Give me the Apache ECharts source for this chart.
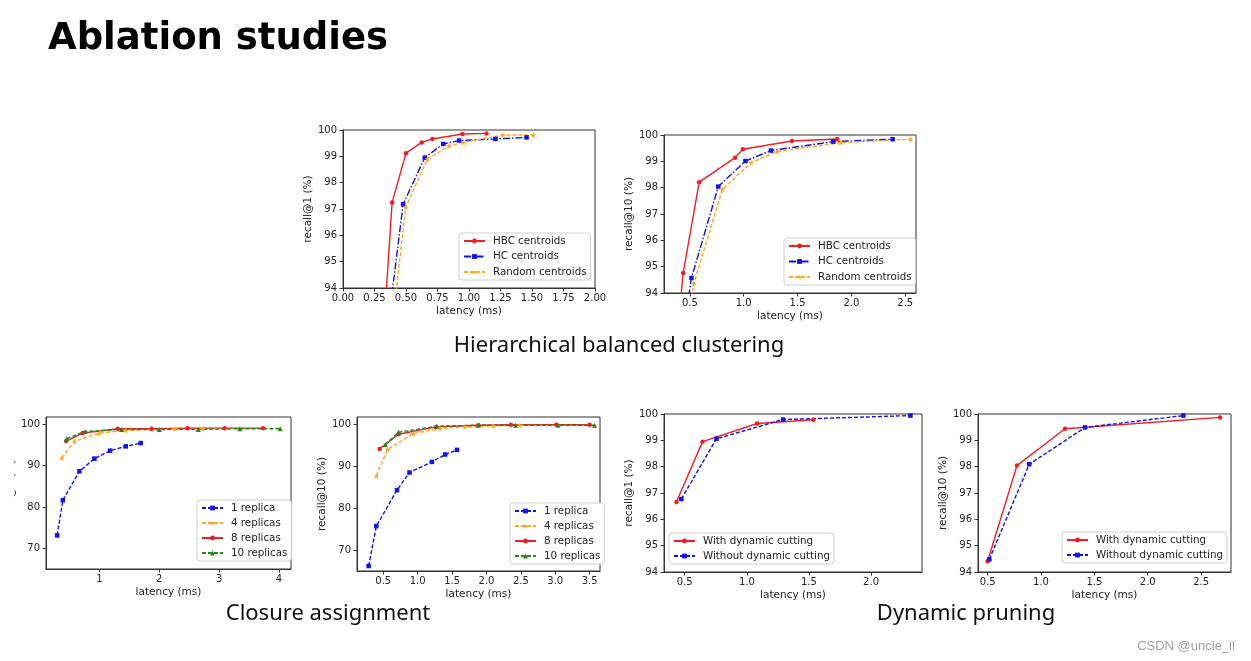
<!DOCTYPE html>
<html><head><meta charset="utf-8">
<script src="https://cdn.jsdelivr.net/npm/echarts@6/dist/echarts.min.js"></script>
<style>html,body{margin:0;padding:0;background:#fff}#c{width:1251px;height:661px}</style>
</head><body><div id="c"></div>
<script>
// ---------- data ----------
// Hierarchical balanced clustering, recall@1
const hbcR1  = [[0.29,90.0],[0.39,97.25],[0.50,99.12],[0.625,99.53],[0.71,99.66],[0.948,99.85],[1.139,99.87]];
const hcR1   = [[0.29,90.0],[0.477,97.18],[0.649,98.95],[0.795,99.47],[0.922,99.60],[1.21,99.66],[1.457,99.72]];
const randR1 = [[0.33,90.0],[0.498,97.07],[0.67,98.90],[0.842,99.40],[0.954,99.53],[1.27,99.81],[1.51,99.81]];
// Hierarchical balanced clustering, recall@10
const hbcR10  = [[0.37,91.9],[0.438,94.76],[0.587,98.21],[0.92,99.14],[0.992,99.46],[1.448,99.77],[1.868,99.85]];
const hcR10   = [[0.42,92.0],[0.515,94.57],[0.764,98.04],[1.016,99.01],[1.253,99.41],[1.832,99.75],[2.383,99.84]];
const randR10 = [[0.45,91.8],[0.537,94.35],[0.802,97.94],[1.07,98.95],[1.31,99.37],[1.9,99.71],[2.55,99.84]];
// Closure assignment, recall@1
const rep1R1  = [[0.294,73.13],[0.389,81.66],[0.666,88.66],[0.916,91.72],[1.178,93.65],[1.44,94.69],[1.69,95.49]];
const rep4R1  = [[0.373,91.87],[0.583,95.9],[1.0,97.9],[1.444,98.55],[1.87,98.9],[2.26,98.95],[2.72,98.95]];
const rep8R1  = [[0.445,95.97],[0.723,97.9],[1.306,98.96],[1.873,98.96],[2.473,99.1],[3.094,99.1],[3.733,99.1]];
const rep10R1 = [[0.456,96.55],[0.761,98.31],[1.373,98.79],[2.0,98.79],[2.65,98.8],[3.344,98.95],[4.02,98.95]];
// Closure assignment, recall@10
const rep1R10  = [[0.287,66.19],[0.399,75.74],[0.699,84.32],[0.881,88.54],[1.206,91.07],[1.399,92.84],[1.572,93.94]];
const rep4R10  = [[0.399,87.73],[0.562,94.03],[0.939,97.85],[1.326,99.05],[1.688,99.44],[2.1,99.68],[2.486,99.84]];
const rep8R10  = [[0.446,94.18],[0.722,97.68],[1.268,99.43],[1.882,99.84],[2.355,99.95],[3.017,99.95],[3.5,99.95]];
const rep10R10 = [[0.529,95.23],[0.722,98.16],[1.278,99.59],[1.882,99.84],[2.423,99.84],[3.04,99.84],[3.57,99.84]];
// Dynamic pruning
const withR1     = [[0.433,96.66],[0.643,98.95],[1.083,99.64],[1.535,99.78]];
const withoutR1  = [[0.473,96.77],[0.755,99.06],[1.293,99.79],[2.317,99.94]];
const withR10    = [[0.5,94.41],[0.775,98.04],[1.225,99.44],[2.678,99.87]];
const withoutR10 = [[0.516,94.48],[0.89,98.09],[1.4125,99.49],[2.334,99.94]];
// tick labels
const ticksX1 = [0,0.25,0.5,0.75,1,1.25,1.5,1.75,2];
const ticksX2 = [0.5,1,1.5,2,2.5];
const ticksX3 = [1,2,3,4];
const ticksX4 = [0.5,1,1.5,2,2.5,3,3.5];
const ticksX5 = [0.5,1,1.5,2];
const ticksX6 = [0.5,1,1.5,2,2.5];
const ticksYfine = [94,95,96,97,98,99,100];
const ticksYwide = [70,80,90,100];
// names
const clusterNames = ['HBC centroids','HC centroids','Random centroids'];
const replicaNames = ['1 replica','4 replicas','8 replicas','10 replicas'];
const pruneNames = ['With dynamic cutting','Without dynamic cutting'];

// ---------- styling ----------
const F = 'DejaVu Sans';
const RED = '#f21d23', BLUE = '#1010f5', ORANGE = '#ffa81a', GREEN = '#1a8a1a';
const AX = '#333';
const STAR = 'path://M0,-5L1.2,-1.6L4.8,-1.5L1.9,0.6L2.9,4L0,2L-2.9,4L-1.9,0.6L-4.8,-1.5L-1.2,-1.6Z';
const DASH = [4,2];
const DASHDOT = [7,2,1.5,2];

const grids = [
  {left:343, top:130, width:252, height:158},
  {left:664, top:135, width:252, height:158},
  {left:46,  top:417, width:245, height:152},
  {left:357, top:417, width:243, height:154},
  {left:664, top:414, width:258, height:158},
  {left:978, top:414, width:253, height:158}
].map(g => Object.assign({show:true, borderColor:AX, borderWidth:1, backgroundColor:'#fff', containLabel:false, outerBoundsMode:'none'}, g));

function xAx(gi, min, max, ticks, dec) {
  return {type:'value', gridIndex:gi, min:min, max:max,
    name:'latency (ms)', nameLocation:'middle', nameGap:18,
    nameTextStyle:{fontFamily:F, fontSize:10.5, color:'#222'},
    axisLine:{show:true, onZero:false, lineStyle:{color:AX, width:1}},
    axisTick:{show:true, length:3.5, lineStyle:{color:AX}, customValues:ticks},
    axisLabel:{customValues:ticks, formatter:v => Number(v).toFixed(dec), margin:5, fontFamily:F, fontSize:10, color:'#222'},
    splitLine:{show:false}};
}
function yAx(gi, min, max, ticks, name) {
  return {type:'value', gridIndex:gi, min:min, max:max,
    name:name, nameLocation:'middle', nameGap:27, nameRotate:90,
    nameTextStyle:{fontFamily:F, fontSize:10.5, color:'#222'},
    axisLine:{show:true, onZero:false, lineStyle:{color:AX, width:1}},
    axisTick:{show:true, length:3.5, lineStyle:{color:AX}, customValues:ticks},
    axisLabel:{customValues:ticks, formatter:v => String(Math.round(v)), margin:6, fontFamily:F, fontSize:10, color:'#222'},
    splitLine:{show:false}};
}
function ser(gi, name, data, color, dash, symbol, size) {
  return {type:'line', name:name, xAxisIndex:gi, yAxisIndex:gi, data:data,
    color:color, symbol:symbol, symbolSize:size, showSymbol:true, clip:true,
    lineStyle:{color:color, width:1.4, type:dash}, itemStyle:{color:color, borderWidth:0},
    emphasis:{disabled:true}, silent:true, animation:false};
}
function leg(names, left, top, gap) {
  return {data:names, orient:'vertical', left:left, top:top, align:'left',
    itemWidth:21, itemHeight:6, itemGap:gap, padding:[3,4,3,4],
    borderColor:'#cfcfcf', borderWidth:1, borderRadius:3, backgroundColor:'#fff',
    selectedMode:false, textStyle:{fontFamily:F, fontSize:10.3, color:'#222', lineHeight:10, padding:[0,0,0,3]}};
}

const series = [
  ser(0, clusterNames[0], hbcR1, RED, 'solid', 'circle', 4.5),
  ser(0, clusterNames[1], hcR1, BLUE, DASHDOT, 'rect', 4.5),
  ser(0, clusterNames[2], randR1, ORANGE, DASH, STAR, 6),
  ser(1, clusterNames[0], hbcR10, RED, 'solid', 'circle', 4.5),
  ser(1, clusterNames[1], hcR10, BLUE, DASHDOT, 'rect', 4.5),
  ser(1, clusterNames[2], randR10, ORANGE, DASH, STAR, 6),
  ser(2, replicaNames[0], rep1R1, BLUE, DASH, 'rect', 4.5),
  ser(2, replicaNames[1], rep4R1, ORANGE, DASH, STAR, 6),
  ser(2, replicaNames[2], rep8R1, RED, 'solid', 'circle', 4.5),
  ser(2, replicaNames[3], rep10R1, GREEN, DASH, 'triangle', 5),
  ser(3, replicaNames[0], rep1R10, BLUE, DASH, 'rect', 4.5),
  ser(3, replicaNames[1], rep4R10, ORANGE, DASH, STAR, 6),
  ser(3, replicaNames[2], rep8R10, RED, 'solid', 'circle', 4.5),
  ser(3, replicaNames[3], rep10R10, GREEN, DASH, 'triangle', 5),
  ser(4, pruneNames[0], withR1, RED, 'solid', 'circle', 4.5),
  ser(4, pruneNames[1], withoutR1, BLUE, DASH, 'rect', 4.5),
  ser(5, pruneNames[0], withR10, RED, 'solid', 'circle', 4.5),
  ser(5, pruneNames[1], withoutR10, BLUE, DASH, 'rect', 4.5)
];

const option = {
  backgroundColor:'#fff',
  animation:false,
  grid: grids,
  xAxis: [
    xAx(0, 0, 2, ticksX1, 2),
    xAx(1, 0.26, 2.6, ticksX2, 1),
    xAx(2, 0.108, 4.2, ticksX3, 0),
    xAx(3, 0.118, 3.65, ticksX4, 1),
    xAx(4, 0.333, 2.41, ticksX5, 1),
    xAx(5, 0.41, 2.78, ticksX6, 1)
  ],
  yAxis: [
    yAx(0, 94, 100, ticksYfine, 'recall@1 (%)'),
    yAx(1, 94, 100, ticksYfine, 'recall@10 (%)'),
    yAx(2, 65, 101.8, ticksYwide, 'recall@1 (%)'),
    yAx(3, 65, 101.8, ticksYwide, 'recall@10 (%)'),
    yAx(4, 94, 100, ticksYfine, 'recall@1 (%)'),
    yAx(5, 94, 100, ticksYfine, 'recall@10 (%)')
  ],
  legend: [
    leg(clusterNames, 459, 233, 5.5),
    leg(clusterNames, 784, 238, 5.5),
    leg(replicaNames, 197, 500, 5),
    leg(replicaNames, 510, 503, 5),
    leg(pruneNames, 669, 533, 5),
    leg(pruneNames, 1062, 532, 5)
  ],
  series: series,
  graphic: [
    {type:'rect', left:0, top:430, shape:{width:14, height:130}, style:{fill:'#fff'}, z:100},
    {type:'text', left:48, top:21, style:{text:'Ablation studies', font:'bold 37px "DejaVu Sans"', fill:'#000'}},
    {type:'text', x:619, y:346, style:{text:'Hierarchical balanced clustering', font:'22px "Noto Sans"', fill:'#111', align:'center', verticalAlign:'middle'}},
    {type:'text', x:328, y:614, style:{text:'Closure assignment', font:'22px "Noto Sans"', fill:'#111', align:'center', verticalAlign:'middle'}},
    {type:'text', x:966, y:614, style:{text:'Dynamic pruning', font:'22px "Noto Sans"', fill:'#111', align:'center', verticalAlign:'middle'}},
    {type:'text', x:1186, y:646, style:{text:'CSDN @uncle_ll', font:'13px "Liberation Sans"', fill:'#a0a0a0', align:'center', verticalAlign:'middle'}}
  ]
};
const chart = echarts.init(document.getElementById('c'), null, {renderer:'canvas'});
chart.setOption(option);
</script></body></html>
